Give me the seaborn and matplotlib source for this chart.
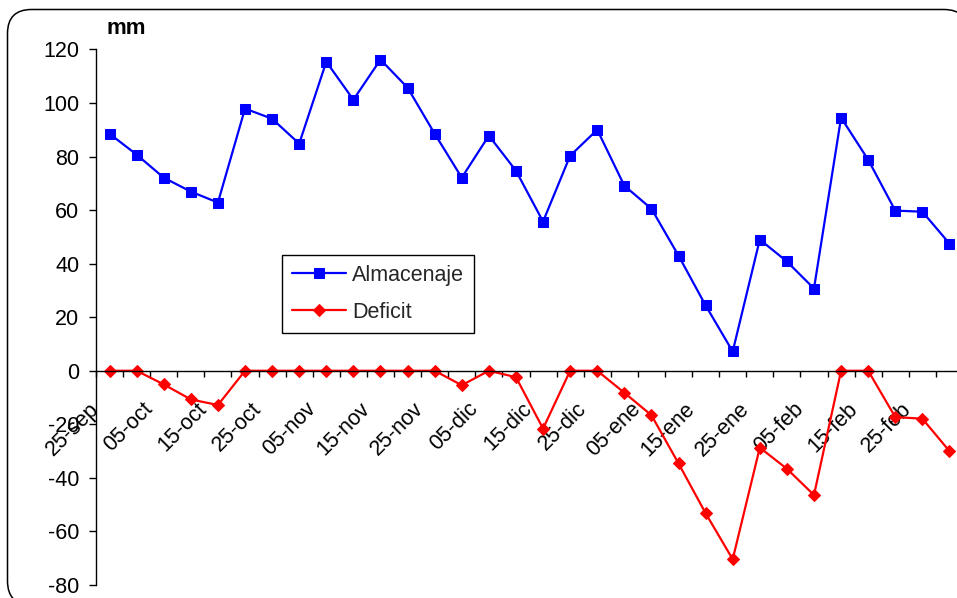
import matplotlib
matplotlib.use("Agg")
import matplotlib.pyplot as plt
import matplotlib.transforms as mtransforms
from matplotlib.patches import FancyBboxPatch
import seaborn as sns
import pandas as pd

fechas = ["25-sep", "30-sep", "05-oct", "10-oct", "15-oct", "20-oct", "25-oct", "30-oct",
          "05-nov", "10-nov", "15-nov", "20-nov", "25-nov", "30-nov", "05-dic", "10-dic",
          "15-dic", "20-dic", "25-dic", "30-dic", "05-ene", "10-ene", "15-ene", "20-ene",
          "25-ene", "30-ene", "05-feb", "10-feb", "15-feb", "20-feb", "25-feb", "28-feb"]
almacenaje = [88.5, 80.7, 72.1, 66.9, 62.8, 97.9, 94.1, 84.8, 115.4, 101.2, 116.2, 105.7,
              88.5, 72.1, 87.8, 74.7, 55.7, 80.3, 90.0, 69.1, 60.5, 43.0, 24.4, 7.2,
              49.0, 40.8, 30.7, 94.5, 78.8, 59.8, 59.4, 47.5]
deficit = [0, 0, -5.1, -10.7, -12.8, 0, 0, 0, 0, 0, 0, 0, 0, -5.4, 0, -2.4, -21.6, 0, 0,
           -8.2, -16.6, -34.6, -53.2, -70.4, -28.7, -36.6, -46.4, 0, 0, -17.3, -17.9, -30.0]
y_ticks = [-80, -60, -40, -20, 0, 20, 40, 60, 80, 100, 120]

sns.set_theme(style="white")
plt.rcParams["font.family"] = ["Liberation Sans", "DejaVu Sans"]

df = pd.DataFrame({"idx": range(len(fechas)), "fecha": fechas,
                   "Almacenaje": almacenaje, "Deficit": deficit})

W, H = 957, 598
fig = plt.figure(figsize=(W / 100, H / 100), dpi=100)
fig.patch.set_facecolor("white")

# rounded outer frame (pixel coordinates, origin bottom-left)
fx0, fx1 = 7.5, 968.0
fy_top, fy_bot = 9.5, 605.0
frame = FancyBboxPatch((fx0, H - fy_bot), fx1 - fx0, fy_bot - fy_top,
                       boxstyle="round,pad=0,rounding_size=24",
                       transform=mtransforms.IdentityTransform(), facecolor="white",
                       edgecolor="black", linewidth=1.1, zorder=-1)
fig.patches.append(frame)

left, right = 96 / W, 963 / W
top, bottom = 1 - 49.4 / H, 1 - 585 / H
ax = fig.add_axes([left, bottom, right - left, top - bottom])
ax.set_facecolor("none")

sns.lineplot(data=df, x="idx", y="Almacenaje", ax=ax, color="#0000FF", linewidth=1.6,
             marker="s", markersize=7.4, markeredgecolor="#0000FF", label="Almacenaje")
sns.lineplot(data=df, x="idx", y="Deficit", ax=ax, color="#FF0000", linewidth=1.6,
             marker="D", markersize=6.6, markeredgecolor="#FF0000", label="Deficit")

ax.set_xlim(-0.5, len(fechas) - 0.5)
ax.set_ylim(-80, 120)
ax.set_xlabel("")
ax.set_ylabel("")

for s in ["top", "right"]:
    ax.spines[s].set_visible(False)
ax.spines["left"].set_color("black")
ax.spines["left"].set_linewidth(1.0)
ax.spines["bottom"].set_position(("data", 0))
ax.spines["bottom"].set_color("black")
ax.spines["bottom"].set_linewidth(1.0)

ax.set_yticks(y_ticks)
ax.set_yticklabels([str(v) for v in y_ticks])
ax.tick_params(axis="y", direction="out", length=5, width=1, color="black",
               labelsize=15.5, labelcolor="black", pad=7, left=True)

pos = list(range(0, len(fechas), 2))
ax.set_xticks(pos)
ax.set_xticklabels([fechas[i] for i in pos])
ax.set_xticks([i - 0.5 for i in range(len(fechas) + 1)], minor=True)
ax.tick_params(axis="x", which="major", length=0, labelsize=15.5, labelcolor="black", pad=28)
ax.tick_params(axis="x", which="minor", direction="out", length=4, width=1,
               color="black", bottom=True)
shift = mtransforms.ScaledTranslation(-10 / 100, 0, fig.dpi_scale_trans)
for lab in ax.get_xticklabels():
    lab.set_rotation(45)
    lab.set_rotation_mode("anchor")
    lab.set_ha("right")
    lab.set_va("baseline")
    lab.set_transform(lab.get_transform() + shift)

ax.grid(False)

leg = ax.legend(loc="upper left", bbox_to_anchor=(282 / W, 1 - 255 / H),
                bbox_transform=fig.transFigure, borderaxespad=0, fontsize=15.5,
                frameon=True, fancybox=False, framealpha=1, edgecolor="black",
                handlelength=2.5, handletextpad=0.3, borderpad=0.45, labelspacing=0.75)
leg.get_frame().set_linewidth(1.0)

fig.text(106 / W, 1 - 28 / H, "mm", fontsize=16, fontweight="bold",
         ha="left", va="center", color="black")

fig.savefig("out.png", dpi=100, facecolor="white")
